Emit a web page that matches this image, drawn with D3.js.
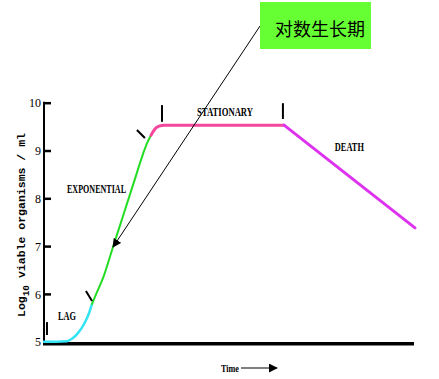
<!DOCTYPE html>
<html>
<head>
<meta charset="utf-8">
<script src="https://cdn.jsdelivr.net/npm/d3@7"></script>
<style>
  html, body { margin: 0; padding: 0; background: #fff; }
  svg { display: block; }
  .tick text { font-family: "Liberation Serif", serif; font-size: 12px; fill: #000; }
  .phase { font-family: "Liberation Serif", serif; font-size: 12px; font-weight: bold; fill: #000; }
</style>
</head>
<body>
<svg id="chart" width="439" height="379"></svg>
<script>
// growth curve, time in hours, value = log10 viable organisms / ml
const lagPoints = [[0, 5.0], [0.65, 5.0], [1.24, 5.01], [1.51, 5.06], [1.83, 5.18], [2.16, 5.37], [2.43, 5.6], [2.59, 5.79]];
const expPoints = [[2.59, 5.79], [2.86, 6.04], [3.18, 6.33], [3.72, 6.98], [4.26, 7.63], [4.8, 8.28], [5.34, 8.93], [5.55, 9.15], [5.77, 9.32]];
const statPoints = [[5.77, 9.32], [5.98, 9.45], [6.2, 9.51], [6.47, 9.53], [12.94, 9.53]];
const deathPoints = [[12.94, 9.53], [20, 7.38]];

const yTicks = [5, 6, 7, 8, 9, 10];

// short marks that separate the phases
const dividers = [
  [[0.16, 5.41], [0.16, 5.14]],
  [[2.26, 6.06], [2.59, 5.85]],
  [[5.01, 9.43], [5.44, 9.26]],
  [[6.36, 9.95], [6.36, 9.6]],
  [[12.88, 9.99], [12.88, 9.66]]
];

const phaseLabels = [
  { name: "LAG", t: 0.75, v: 5.45, len: 18 },
  { name: "EXPONENTIAL", t: 1.24, v: 8.11, len: 59 },
  { name: "STATIONARY", t: 8.25, v: 9.73, len: 56 },
  { name: "DEATH", t: 15.68, v: 9.0, len: 29 }
];

const callout = "对数生长期";
const arrowTip = [3.72, 6.98];

const svg = d3.select("#chart");
const x = d3.scaleLinear().domain([0, 20]).range([44, 415]);
const y = d3.scaleLinear().domain([5, 10]).range([341.7, 102.7]);

svg.append("defs").append("marker")
  .attr("id", "head")
  .attr("viewBox", "0 0 10 10")
  .attr("refX", 9).attr("refY", 5)
  .attr("markerWidth", 9).attr("markerHeight", 9)
  .attr("markerUnits", "userSpaceOnUse")
  .attr("orient", "auto")
  .append("path")
  .attr("d", "M0,0 L10,5 L0,10 Z")
  .attr("fill", "#000");

// axes
const yAxis = svg.append("g")
  .attr("transform", `translate(${x(0)},0)`)
  .call(d3.axisLeft(y).tickValues(yTicks).tickSize(-7).tickPadding(3).tickFormat(d3.format("d")));
yAxis.select(".domain").attr("stroke-width", 2).attr("d", `M0,${y(10) - 1}V${y(5) + 2}`);
yAxis.selectAll(".tick line").attr("stroke-width", 2.5);
yAxis.selectAll(".tick text").attr("dy", "0.35em");

svg.append("line")
  .attr("x1", x(0) - 1).attr("x2", x(20) - 1)
  .attr("y1", y(5) + 2).attr("y2", y(5) + 2)
  .attr("stroke", "#000").attr("stroke-width", 3.5);

// curve phases
const line = d3.line().x((d) => x(d[0])).y((d) => y(d[1])).curve(d3.curveMonotoneX);
const phases = [
  { pts: lagPoints, color: "#33e4f4", w: 2.5 },
  { pts: expPoints, color: "#22dd22", w: 2 },
  { pts: statPoints, color: "#f5479c", w: 3 },
  { pts: deathPoints, color: "#dd33ee", w: 3 }
];
svg.append("g").selectAll("path")
  .data(phases)
  .join("path")
  .attr("d", (d) => line(d.pts))
  .attr("fill", "none")
  .attr("stroke", (d) => d.color)
  .attr("stroke-width", (d) => d.w)
  .attr("stroke-linecap", "round");

svg.append("g").selectAll("line")
  .data(dividers)
  .join("line")
  .attr("x1", (d) => x(d[0][0])).attr("y1", (d) => y(d[0][1]))
  .attr("x2", (d) => x(d[1][0])).attr("y2", (d) => y(d[1][1]))
  .attr("stroke", "#000").attr("stroke-width", 2);

svg.append("g").selectAll("text")
  .data(phaseLabels)
  .join("text")
  .attr("class", "phase")
  .attr("x", (d) => x(d.t)).attr("y", (d) => y(d.v))
  .attr("textLength", (d) => d.len)
  .attr("lengthAdjust", "spacingAndGlyphs")
  .text((d) => d.name);

// y title
const yTitle = svg.append("text")
  .attr("transform", "translate(25,317) rotate(-90)")
  .attr("font-family", "Liberation Mono, monospace")
  .attr("font-size", 11)
  .attr("font-weight", "bold")
  .attr("textLength", 184)
  .attr("lengthAdjust", "spacingAndGlyphs");
yTitle.append("tspan").text("Log");
yTitle.append("tspan").attr("dy", 4).attr("font-size", 9).text("10");
yTitle.append("tspan").attr("dy", -4).text(" viable organisms / ml");

// x title
svg.append("text")
  .attr("x", 221).attr("y", 372)
  .attr("font-family", "Liberation Serif, serif")
  .attr("font-size", 11)
  .attr("font-weight", "bold")
  .attr("textLength", 18)
  .attr("lengthAdjust", "spacingAndGlyphs")
  .text("Time");
svg.append("line")
  .attr("x1", 241).attr("x2", 277).attr("y1", 368).attr("y2", 368)
  .attr("stroke", "#000").attr("stroke-width", 1.2)
  .attr("marker-end", "url(#head)");

// callout box and arrow
svg.append("line")
  .attr("x1", 260).attr("y1", 26)
  .attr("x2", x(arrowTip[0])).attr("y2", y(arrowTip[1]))
  .attr("stroke", "#000").attr("stroke-width", 1)
  .attr("marker-end", "url(#head)");
svg.append("rect")
  .attr("x", 260).attr("y", 2).attr("width", 111).attr("height", 47)
  .attr("fill", "#66ff33");
svg.append("text")
  .attr("x", 320).attr("y", 36)
  .attr("text-anchor", "middle")
  .attr("font-family", "Noto Sans CJK SC, sans-serif")
  .attr("font-size", 18)
  .attr("fill", "#000")
  .text(callout);
</script>
</body>
</html>
